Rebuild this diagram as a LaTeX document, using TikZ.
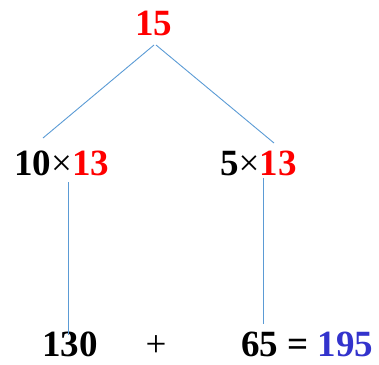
\documentclass[tikz,border=0pt]{standalone}
\usepackage{fontspec}
\setmainfont{Liberation Serif}
\definecolor{linkblue}{HTML}{5B9BD5}
\definecolor{sumblue}{HTML}{3333CC}
\definecolor{numred}{HTML}{FF0000}
\begin{document}
\begin{tikzpicture}[x=1pt,y=-1pt,
  num/.style={inner sep=0pt,font=\fontsize{37}{37}\selectfont\bfseries},
  link/.style={draw=linkblue,line width=0.9pt}]
\useasboundingbox (0,0) rectangle (379,364);
\node[num,anchor=base,text=numred] (top) at (153.5,35) {15};
\node[num,anchor=base west] (left) at (14,175) {10{\mdseries×}\textcolor{numred}{13}};
\node[num,anchor=base west] (right) at (220,175) {5{\mdseries×}\textcolor{numred}{13}};
\node[num,anchor=base west] (a) at (42,356) {130};
\node[inner sep=0pt,anchor=base,font=\fontsize{37}{37}\selectfont] (plus) at (156,356) {+};
\node[num,anchor=base west] (b) at (241,356) {65 = \textcolor{sumblue}{195}};
\coordinate (t1) at (154,45);
\coordinate (t2) at (156,45);
\coordinate (l1) at (43,138);
\coordinate (r1) at (274,143);
\coordinate (l2) at (68,182);
\coordinate (l3) at (68,335);
\coordinate (r2) at (263,178);
\coordinate (r3) at (263,324);
\draw[link] (t1) -- (l1);
\draw[link] (t2) -- (r1);
\draw[link] (l2) -- (l3);
\draw[link] (r2) -- (r3);
\end{tikzpicture}
\end{document}
